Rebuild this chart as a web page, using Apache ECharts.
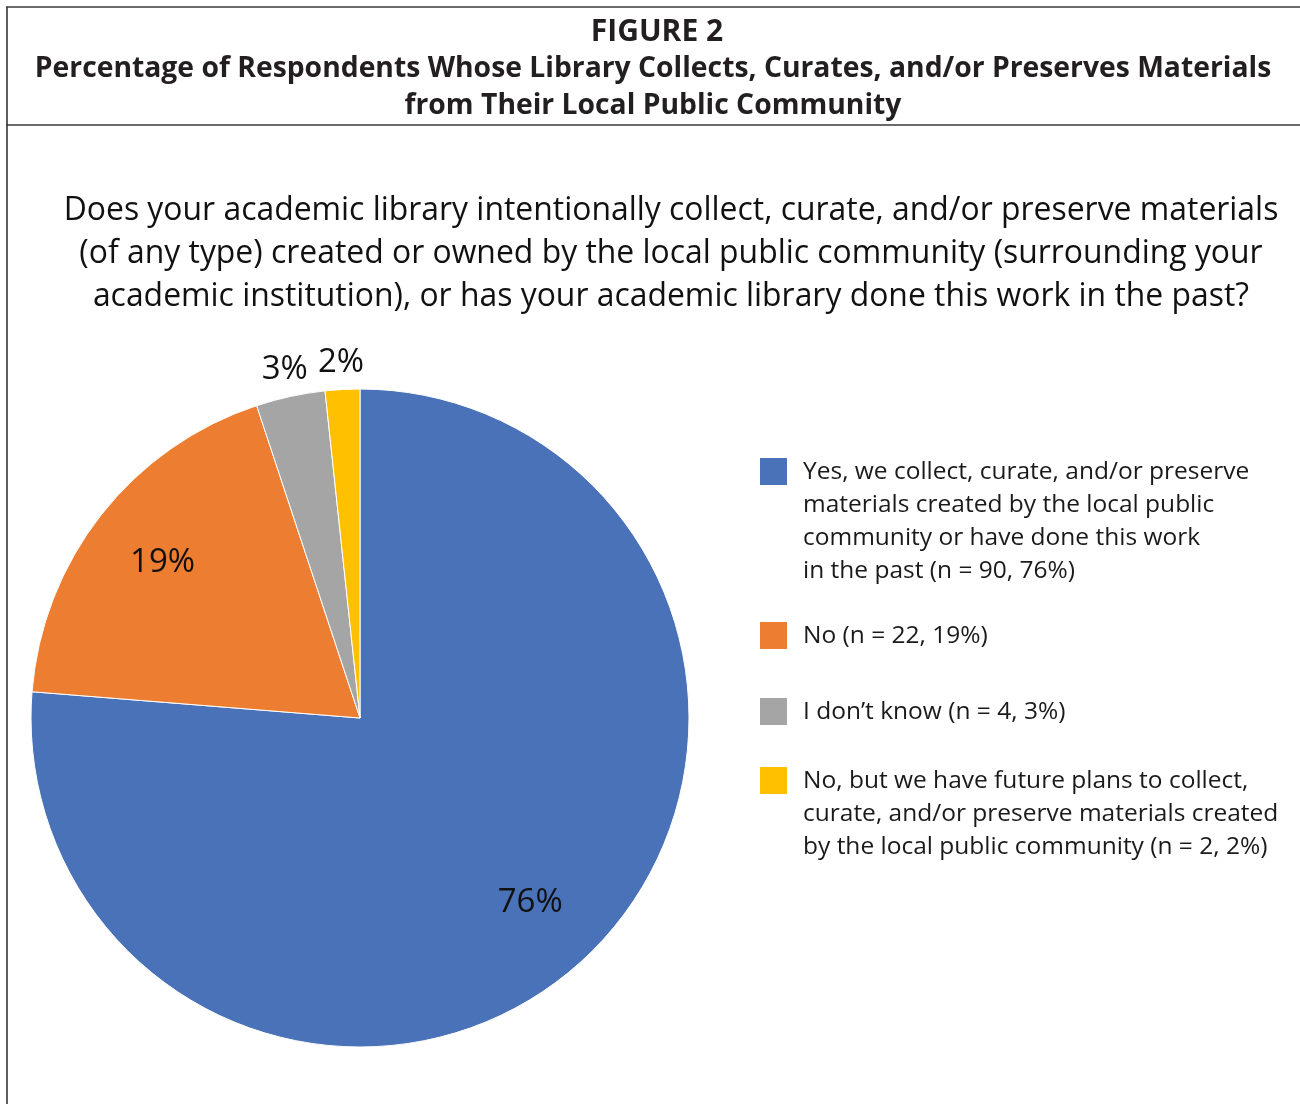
<!DOCTYPE html>
<html>
<head>
<meta charset="utf-8">
<title>Figure 2</title>
<script src="https://cdn.jsdelivr.net/npm/echarts@6/dist/echarts.min.js"></script>
<style>
  html, body { margin: 0; padding: 0; background: #ffffff; }
  #chart { width: 1300px; height: 1104px; }
</style>
</head>
<body>
<div id="chart"></div>
<script>
// Survey responses (n = 118)
const categories = [
  'Yes, we collect, curate, and/or preserve\nmaterials created by the local public\ncommunity or have done this work\nin the past',
  'No',
  'I don\u2019t know',
  'No, but we have future plans to collect,\ncurate, and/or preserve materials created\nby the local public community'
];
const counts = [90, 22, 4, 2];
const colors = ['#4A72B8', '#ED7D31', '#A5A5A5', '#FFC000'];

const FONT = '"Open Sans", "Noto Sans", sans-serif';
const total = counts.reduce((a, b) => a + b, 0);
const pct = v => Math.round(v / total * 100);
const pieData = categories.map((name, i) => ({ name: name, value: counts[i] }));

// legend block: swatch + wrapped text, first line aligned with the swatch
const legendTops = [472, 636, 712, 781];
const legendGraphics = [];
categories.forEach((name, i) => {
  const cy = legendTops[i];
  legendGraphics.push({
    type: 'rect',
    shape: { x: 760, y: cy - 14, width: 27, height: 27 },
    style: { fill: colors[i] },
    silent: true
  });
  legendGraphics.push({
    type: 'text',
    x: 803,
    y: cy - 16.5,
    style: {
      text: name + ' (n = ' + counts[i] + ', ' + pct(counts[i]) + '%)',
      font: '400 24.5px ' + FONT,
      lineHeight: 33,
      fill: '#1a1a1a',
      verticalAlign: 'top',
      align: 'left'
    },
    silent: true
  });
});

// frame lines
const frame = [
  { type: 'line', shape: { x1: 7, y1: 7, x2: 7, y2: 1104 }, style: { stroke: '#5e5e5e', lineWidth: 2 }, silent: true },
  { type: 'line', shape: { x1: 6, y1: 7, x2: 1300, y2: 7 }, style: { stroke: '#3a3a3a', lineWidth: 1.5 }, silent: true },
  { type: 'line', shape: { x1: 6, y1: 125, x2: 1300, y2: 125 }, style: { stroke: '#3a3a3a', lineWidth: 1.5 }, silent: true }
];

const labelStyle = { fontFamily: FONT, fontSize: 33, color: '#111111' };

const chart = echarts.init(document.getElementById('chart'), null, { renderer: 'canvas' });
chart.setOption({
  backgroundColor: '#ffffff',
  animation: false,
  title: [
    {
      text: 'FIGURE 2',
      left: 652, top: 12, textAlign: 'center',
      textStyle: { fontFamily: FONT, fontWeight: 'bold', fontSize: 30, color: '#231f20' }
    },
    {
      text: 'Percentage of Respondents Whose Library Collects, Curates, and/or Preserves Materials\nfrom Their Local Public Community',
      left: 648, top: 45, textAlign: 'center',
      textStyle: { fontFamily: FONT, fontWeight: 'bold', fontSize: 28.3, lineHeight: 37, color: '#231f20' }
    },
    {
      text: 'Does your academic library intentionally collect, curate, and/or preserve materials\n(of any type) created or owned by the local public community (surrounding your\nacademic institution), or has your academic library done this work in the past?',
      left: 666, top: 184, textAlign: 'center',
      textStyle: { fontFamily: FONT, fontWeight: 'normal', fontSize: 31.9, lineHeight: 43, color: '#111111' }
    }
  ],
  graphic: { elements: frame.concat(legendGraphics) },
  series: [
    {
      type: 'pie',
      center: [360, 718],
      radius: 329,
      startAngle: 90,
      clockwise: true,
      silent: true,
      color: colors,
      itemStyle: { borderColor: '#ffffff', borderWidth: 1 },
      label: { show: false },
      labelLine: { show: false },
      emphasis: { disabled: true },
      data: pieData
    },
    {
      // value labels for the two large slices, set in at ~3/4 radius
      type: 'pie',
      center: [360, 718],
      radius: 496,
      startAngle: 90,
      clockwise: true,
      silent: true,
      z: 3,
      itemStyle: { color: 'rgba(0,0,0,0)', borderWidth: 0 },
      label: {
        show: true, position: 'inside',
        formatter: p => (p.dataIndex < 2 ? pct(p.value) + '%' : ''),
        ...labelStyle
      },
      labelLine: { show: false },
      emphasis: { disabled: true },
      data: pieData
    },
    {
      // value labels for the two thin slices, just outside the rim
      type: 'pie',
      center: [360, 718],
      radius: 706,
      startAngle: 90,
      clockwise: true,
      silent: true,
      z: 3,
      itemStyle: { color: 'rgba(0,0,0,0)', borderWidth: 0 },
      label: {
        show: true, position: 'inside',
        formatter: p => (p.dataIndex >= 2 ? pct(p.value) + '%' : ''),
        ...labelStyle
      },
      labelLine: { show: false },
      emphasis: { disabled: true },
      data: pieData
    }
  ]
});
</script>
</body>
</html>
